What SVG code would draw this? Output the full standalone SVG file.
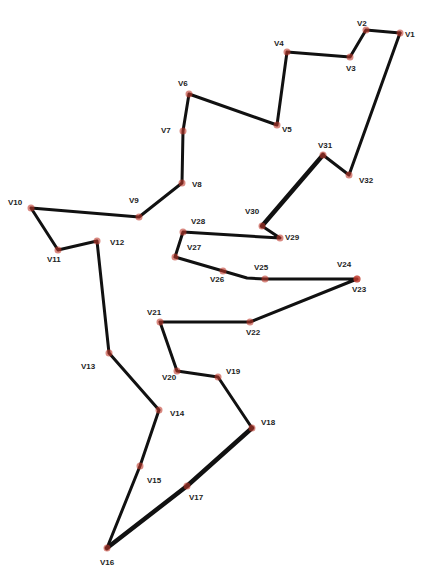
<svg xmlns="http://www.w3.org/2000/svg" width="426" height="566" viewBox="0 0 426 566">
<style>
.e{fill:none;stroke:#111;stroke-width:3;stroke-linejoin:round;stroke-linecap:round}
.t{stroke-width:4.5}
.n{fill:#c0392b;fill-opacity:0.6}
text{font-family:"Liberation Sans",Arial,sans-serif;font-size:8px;font-weight:bold;fill:#222}
</style>
<rect width="426" height="566" fill="#fff"/>
<g id="edges">
<polyline class="e" points="400,33 366,30 350,57 287,52 277,125 189,94 183,131 182,183 139,217 31,208 58,250 97,241 109,353 159,410 140,466 107,548"/>
<polyline class="e t" points="107,548 187,486 252,428"/>
<polyline class="e" points="252,428 218,377 177,371 160,322 250,322 357,279 265,279 247,278 223,271 175,257 183,232 280,238 262,226"/>
<polyline class="e t" points="262,226 323,155"/>
<polyline class="e" points="323,155 349,175 400,33"/>
</g>
<g id="V1"><circle class="n" cx="400" cy="33" r="3.5"/><text x="405" y="37">V1</text></g>
<g id="V2"><circle class="n" cx="366" cy="30" r="3.5"/><text x="357" y="26">V2</text></g>
<g id="V3"><circle class="n" cx="350" cy="57" r="3.5"/><text x="346" y="71">V3</text></g>
<g id="V4"><circle class="n" cx="287" cy="52" r="3.5"/><text x="274" y="46">V4</text></g>
<g id="V5"><circle class="n" cx="277" cy="125" r="3.5"/><text x="282" y="132">V5</text></g>
<g id="V6"><circle class="n" cx="189" cy="94" r="3.5"/><text x="178" y="86">V6</text></g>
<g id="V7"><circle class="n" cx="183" cy="131" r="3.5"/><text x="161" y="133">V7</text></g>
<g id="V8"><circle class="n" cx="182" cy="183" r="3.5"/><text x="192" y="187">V8</text></g>
<g id="V9"><circle class="n" cx="139" cy="217" r="3.5"/><text x="129" y="203">V9</text></g>
<g id="V10"><circle class="n" cx="31" cy="208" r="3.5"/><text x="8" y="205">V10</text></g>
<g id="V11"><circle class="n" cx="58" cy="250" r="3.5"/><text x="47" y="262">V11</text></g>
<g id="V12"><circle class="n" cx="97" cy="241" r="3.5"/><text x="110" y="245">V12</text></g>
<g id="V13"><circle class="n" cx="109" cy="353" r="3.5"/><text x="81" y="369">V13</text></g>
<g id="V14"><circle class="n" cx="159" cy="410" r="3.5"/><text x="170" y="416">V14</text></g>
<g id="V15"><circle class="n" cx="140" cy="466" r="3.5"/><text x="147" y="483">V15</text></g>
<g id="V16"><circle class="n" cx="107" cy="548" r="3.5"/><text x="100" y="565">V16</text></g>
<g id="V17"><circle class="n" cx="187" cy="486" r="3.5"/><text x="189" y="500">V17</text></g>
<g id="V18"><circle class="n" cx="252" cy="428" r="3.5"/><text x="261" y="425">V18</text></g>
<g id="V19"><circle class="n" cx="218" cy="377" r="3.5"/><text x="226" y="374">V19</text></g>
<g id="V20"><circle class="n" cx="177" cy="371" r="3.5"/><text x="162" y="380">V20</text></g>
<g id="V21"><circle class="n" cx="160" cy="322" r="3.5"/><text x="147" y="315">V21</text></g>
<g id="V22"><circle class="n" cx="250" cy="322" r="3.5"/><text x="246" y="335">V22</text></g>
<g id="V23"><circle class="n" cx="357" cy="279" r="3.5"/><text x="352" y="292">V23</text></g>
<g id="V24"><circle class="n" cx="357" cy="279" r="3.5"/><text x="337" y="267">V24</text></g>
<g id="V25"><circle class="n" cx="265" cy="279" r="3.5"/><text x="254" y="270">V25</text></g>
<g id="V26"><circle class="n" cx="223" cy="271" r="3.5"/><text x="210" y="282">V26</text></g>
<g id="V27"><circle class="n" cx="175" cy="257" r="3.5"/><text x="187" y="250">V27</text></g>
<g id="V28"><circle class="n" cx="183" cy="232" r="3.5"/><text x="191" y="224">V28</text></g>
<g id="V29"><circle class="n" cx="280" cy="238" r="3.5"/><text x="285" y="240">V29</text></g>
<g id="V30"><circle class="n" cx="262" cy="226" r="3.5"/><text x="245" y="214">V30</text></g>
<g id="V31"><circle class="n" cx="323" cy="155" r="3.5"/><text x="318" y="148">V31</text></g>
<g id="V32"><circle class="n" cx="349" cy="175" r="3.5"/><text x="359" y="183">V32</text></g>
</svg>
